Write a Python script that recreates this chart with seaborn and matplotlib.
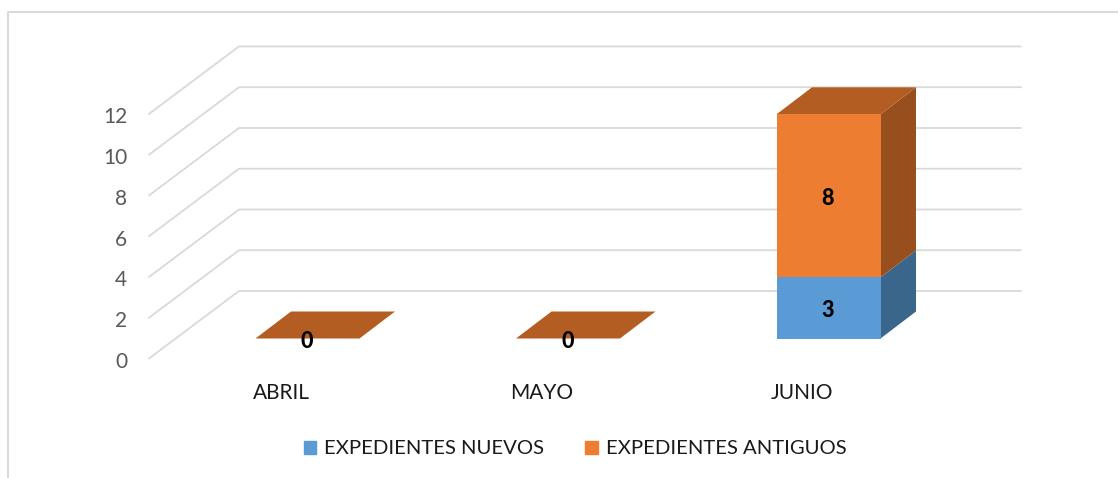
import matplotlib
matplotlib.use("Agg")
import matplotlib.pyplot as plt
import seaborn as sns
from matplotlib.lines import Line2D
from matplotlib.patches import Patch

months = ["ABRIL", "MAYO", "JUNIO"]
nuevos = [0, 0, 3]
antiguos = [0, 0, 8]
y_ticks = [0, 2, 4, 6, 8, 10, 12]
series_names = ["EXPEDIENTES NUEVOS", "EXPEDIENTES ANTIGUOS"]

W, H = 1118, 478
BLUE, ORANGE = "#5b9bd5", "#ed7d31"
BLUE_SIDE, ORANGE_SIDE, ORANGE_TOP = "#3b668c", "#974f1e", "#b35d22"
GRID = "#d9d9d9"
FONT = "Lato"

sns.set_theme(style="white")
plt.rcParams["font.family"] = [FONT, "DejaVu Sans"]

# scale: pixels per category / per value unit, and pixel anchor of the bars
PX_X, PX_Y = 260.5, 20.38
X0_PX, Y0_PX = 307.5, 338.5
BOX = (130, 1040, 30, 375)  # left, right, top, bottom in pixels


def dx(px):
    return px / PX_X


def dy(px):
    return px / PX_Y


fig = plt.figure(figsize=(W / 100, H / 100), dpi=100, facecolor="white")
ax = fig.add_axes([BOX[0] / W, 1 - BOX[3] / H, (BOX[1] - BOX[0]) / W, (BOX[3] - BOX[2]) / H])

sns.barplot(x=months, y=nuevos, color=BLUE, saturation=1, width=104 / PX_X,
            linewidth=0, zorder=3, ax=ax)
sns.barplot(x=months, y=antiguos, bottom=nuevos, color=ORANGE, saturation=1, width=104 / PX_X,
            linewidth=0, zorder=3, ax=ax)

ax.set_xlim((BOX[0] - X0_PX) / PX_X, (BOX[1] - X0_PX) / PX_X)
ax.set_ylim((Y0_PX - BOX[3]) / PX_Y, (Y0_PX - BOX[2]) / PX_Y)
sns.despine(ax=ax, left=True, bottom=True, top=True, right=True)
ax.grid(False)

# bar depth
half = 52 / PX_X
depth_x, depth_y = dx(35.5), dy(27)
label_kw = dict(ha="center", va="center", fontsize=15.5, fontweight=900,
                color="black", zorder=5)
label_shift = dy(2.5)
for i, (n, a) in enumerate(zip(nuevos, antiguos)):
    xr = i + half
    xl = i - half
    total = n + a
    if n > 0:
        ax.fill([xr, xr + depth_x, xr + depth_x, xr], [0, depth_y, n + depth_y, n],
                color=BLUE_SIDE, lw=0, zorder=2)
    if a > 0:
        ax.fill([xr, xr + depth_x, xr + depth_x, xr], [n, n + depth_y, total + depth_y, total],
                color=ORANGE_SIDE, lw=0, zorder=2)
    ax.fill([xl, xr, xr + depth_x, xl + depth_x],
            [total, total, total + depth_y, total + depth_y],
            color=ORANGE_TOP, lw=0, zorder=2)
    if total == 0:
        ax.text(i - dx(0.5), -label_shift, "0", **label_kw)
    else:
        ax.text(i - dx(0.5), n / 2 - label_shift, str(n), **label_kw)
        ax.text(i - dx(0.5), n + a / 2 - label_shift, str(a), **label_kw)

# back wall gridlines and slanted side-wall lines
back_dy = dy(47.5)
front_dy = dy(20.0)
x_front = (149 - X0_PX) / PX_X
x_back = (239 - X0_PX) / PX_X
x_end = (1021 - X0_PX) / PX_X
for v in y_ticks:
    ax.plot([x_front, x_back, x_end], [v - front_dy, v + back_dy, v + back_dy],
            color=GRID, lw=1.3, zorder=1, solid_joinstyle="miter")

ax.set_yticks([v - front_dy - dy(1.5) for v in y_ticks], [str(v) for v in y_ticks])
ax.tick_params(axis="y", length=0, pad=2, labelsize=15, labelcolor="#595959")
ax.set_xticks([i - dx(26.5) for i in range(len(months))], months)
ax.tick_params(axis="x", length=0, pad=6, labelsize=15, labelcolor="#1a1a1a")

# outer chart frame (only top and left are visible in the crop)
fig.add_artist(Line2D([8 / W, 8 / W, 1], [0, 1 - 12 / H, 1 - 12 / H],
                      color=GRID, lw=1.4, transform=fig.transFigure))

handles = [Patch(color=BLUE), Patch(color=ORANGE)]
fig.legend(handles, series_names, loc="center", bbox_to_anchor=(575 / W, 1 - 449 / H),
           ncol=2, frameon=False, fontsize=14.6, labelcolor="#1a1a1a",
           handlelength=0.6, handleheight=0.6, handletextpad=0.4, columnspacing=2.05,
           borderpad=0, borderaxespad=0)

fig.savefig("out.png", dpi=100)
